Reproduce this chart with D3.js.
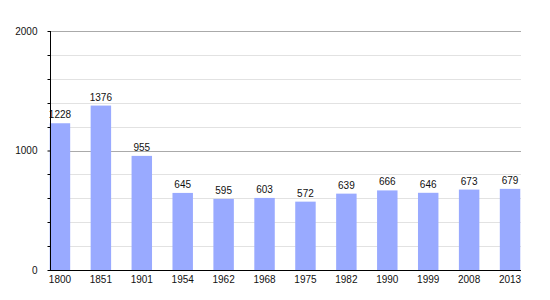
<!DOCTYPE html>
<html>
<head>
<meta charset="utf-8">
<script src="https://cdn.jsdelivr.net/npm/d3@7"></script>
<style>
  body { margin: 0; background: #fff; }
  text { font-family: "Liberation Sans", Arial, sans-serif; font-size: 10px; fill: #111; }
</style>
</head>
<body>
<svg id="chart" width="550" height="300"></svg>
<script>
const years = ['1800', '1851', '1901', '1954', '1962', '1968', '1975', '1982', '1990', '1999', '2008', '2013']
const population = [1228, 1376, 955, 645, 595, 603, 572, 639, 666, 646, 673, 679]
const majorTicks = [0, 1000, 2000]

const svg = d3.select('#chart')
const gLeft = 50, gRight = 521, gTop = 31, gBottom = 270

let x = d3.scaleBand()
  .domain(years)
  .range([39.5, 530.5])
  .paddingInner(0.5)
  .paddingOuter(0.25)

let y = d3.scaleLinear()
  .domain([0, 2000])
  .range([gBottom, gTop])

let minor = d3.range(200, 2000, 200).filter(v => v % 1000 !== 0)

// minor grid
svg.append('g')
  .selectAll('line')
  .data(minor)
  .join('line')
  .attr('x1', gLeft).attr('x2', gRight)
  .attr('y1', d => Math.round(y(d)) + 0.5).attr('y2', d => Math.round(y(d)) + 0.5)
  .attr('stroke', '#e2e2e2')

// major grid
svg.append('g')
  .selectAll('line')
  .data(majorTicks.filter(d => d > 0))
  .join('line')
  .attr('x1', gLeft).attr('x2', gRight)
  .attr('y1', d => Math.round(y(d)) + 0.5).attr('y2', d => Math.round(y(d)) + 0.5)
  .attr('stroke', '#aaaaaa')

// bars
svg.append('g')
  .selectAll('rect')
  .data(population)
  .join('rect')
  .attr('x', (d, i) => x(years[i]))
  .attr('width', x.bandwidth())
  .attr('y', d => y(d))
  .attr('height', d => y(0) - y(d))
  .attr('fill', '#99aaff')

// value labels
svg.append('g')
  .selectAll('text')
  .data(population)
  .join('text')
  .attr('x', (d, i) => x(years[i]) + x.bandwidth() / 2)
  .attr('y', d => y(d) - 5)
  .attr('text-anchor', 'middle')
  .text(d => d)

// y axis
let yAxis = d3.axisLeft(y)
  .tickValues(majorTicks)
  .tickSize(3)
  .tickFormat(d3.format('d'))
let ya = svg.append('g')
  .attr('transform', `translate(${gLeft + 0.5},0)`)
  .call(yAxis)
ya.attr('font-family', null).attr('font-size', null)
ya.select('.domain').attr('stroke', '#000').attr('d', `M0,${gTop}V${gBottom}`)
ya.selectAll('.tick line').attr('stroke', '#000')
ya.selectAll('.tick text').attr('x', -13)
ya.selectAll('.minor')
  .data(minor)
  .join('line')
  .attr('class', 'minor')
  .attr('x1', -3).attr('x2', 0)
  .attr('y1', d => Math.round(y(d)) + 0.5).attr('y2', d => Math.round(y(d)) + 0.5)
  .attr('stroke', '#000')

// x axis
svg.append('line')
  .attr('x1', gLeft).attr('x2', gRight)
  .attr('y1', gBottom + 0.5).attr('y2', gBottom + 0.5)
  .attr('stroke', '#000')

svg.append('g')
  .selectAll('text')
  .data(years)
  .join('text')
  .attr('x', d => x(d) + x.bandwidth() / 2)
  .attr('y', gBottom + 13)
  .attr('text-anchor', 'middle')
  .text(d => d)
</script>
</body>
</html>
